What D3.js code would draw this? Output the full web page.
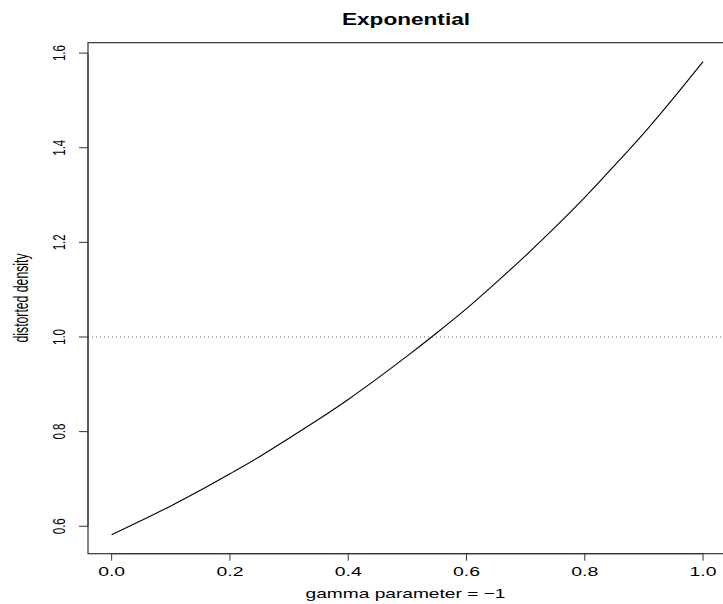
<!DOCTYPE html>
<html lang="en">
<head>
  <meta charset="UTF-8">
  <title>Exponential</title>
  <style>
    html, body {
      margin: 0;
      padding: 0;
      background: #fff;
      overflow: hidden;
    }
    svg {
      display: block;
      font-family: 'Liberation Sans', Arial, sans-serif;
    }
  </style>
</head>
<body>
  <svg id="chart" width="723" height="604"></svg>

  <script src="https://d3js.org/d3.v7.min.js"></script>
  <script>
    // values
    const uValues = [0, 0.05, 0.1, 0.15, 0.2, 0.25, 0.3, 0.35, 0.4, 0.45, 0.5,
                     0.55, 0.6, 0.65, 0.7, 0.75, 0.8, 0.85, 0.9, 0.95, 1.0];
    const densityValues = [0.582, 0.612, 0.643, 0.676, 0.711, 0.747, 0.786, 0.826, 0.868, 0.913, 0.960,
                           1.009, 1.060, 1.115, 1.172, 1.232, 1.295, 1.362, 1.431, 1.505, 1.582];
    const xTicks = [0, 0.2, 0.4, 0.6, 0.8, 1.0];
    const yTicks = [0.6, 0.8, 1.0, 1.2, 1.4, 1.6];
    const refLevel = 1.0;

    const svg = d3.select("#chart");
    const box = { left: 88, right: 726.7, top: 42.7, bottom: 553.7 };

    // R style: 4% padding on each side of the data range
    const xMin = d3.min(uValues), xMax = d3.max(uValues);
    const yMin = d3.min(densityValues), yMax = d3.max(densityValues);
    const xPad = (xMax - xMin) * 0.04, yPad = (yMax - yMin) * 0.04;

    const x = d3.scaleLinear().domain([xMin - xPad, xMax + xPad]).range([box.left, box.right]);
    const y = d3.scaleLinear().domain([yMin - yPad, yMax + yPad]).range([box.bottom, box.top]);

    // the reference picture is stretched sideways, so text widths are forced
    function stretch(sel, len) {
      sel.attr("textLength", len).attr("lengthAdjust", "spacingAndGlyphs");
    }

    // plot box
    svg.append("rect")
      .attr("x", box.left).attr("y", box.top)
      .attr("width", box.right - box.left).attr("height", box.bottom - box.top)
      .attr("fill", "none").attr("stroke", "#333").attr("stroke-width", 1.2);

    // x axis
    const gx = svg.append("g").attr("transform", `translate(0,${box.bottom})`);
    gx.append("path")
      .attr("d", `M${x(xTicks[0])},0H${x(xTicks[xTicks.length - 1])}`)
      .attr("stroke", "#333").attr("fill", "none");
    const xt = gx.selectAll("g.xtick").data(xTicks).enter().append("g")
      .attr("class", "xtick")
      .attr("transform", d => `translate(${x(d)},0)`);
    xt.append("line").attr("y1", 0).attr("y2", 7).attr("stroke", "#333");
    xt.append("text")
      .attr("y", 22)
      .attr("text-anchor", "middle")
      .attr("font-size", 13)
      .text(d => d.toFixed(1))
      .call(stretch, 27);

    // y axis (labels rotated like R's default las=0)
    const gy = svg.append("g").attr("transform", `translate(${box.left},0)`);
    gy.append("path")
      .attr("d", `M0,${y(yTicks[0])}V${y(yTicks[yTicks.length - 1])}`)
      .attr("stroke", "#333").attr("fill", "none");
    const yt = gy.selectAll("g.ytick").data(yTicks).enter().append("g")
      .attr("class", "ytick")
      .attr("transform", d => `translate(0,${y(d)})`);
    yt.append("line").attr("x1", -9).attr("x2", 0).attr("stroke", "#333");
    yt.append("text")
      .attr("transform", "translate(-23,0) rotate(-90) scale(1,1.4)")
      .attr("text-anchor", "middle")
      .attr("font-size", 12)
      .text(d => d.toFixed(1))
      .call(stretch, 16);

    // reference line at 1
    svg.append("line")
      .attr("x1", box.left).attr("x2", box.right)
      .attr("y1", y(refLevel)).attr("y2", y(refLevel))
      .attr("stroke", "#444").attr("stroke-width", 0.8)
      .attr("stroke-dasharray", "1,3");

    // curve
    const line = d3.line()
      .x((d, i) => x(uValues[i]))
      .y(d => y(d))
      .curve(d3.curveMonotoneX);
    svg.append("path")
      .datum(densityValues)
      .attr("d", line)
      .attr("fill", "none")
      .attr("stroke", "#000")
      .attr("stroke-width", 1.1);

    // title and axis labels
    svg.append("text")
      .attr("x", 406).attr("y", 25)
      .attr("text-anchor", "middle")
      .attr("font-weight", "bold").attr("font-size", 16)
      .text("Exponential")
      .call(stretch, 128);
    svg.append("text")
      .attr("x", 405.5).attr("y", 598)
      .attr("text-anchor", "middle").attr("font-size", 13)
      .text("gamma parameter = \u22121")
      .call(stretch, 200);
    svg.append("text")
      .attr("transform", "translate(27.5,298) rotate(-90) scale(1,1.4)")
      .attr("text-anchor", "middle").attr("font-size", 14)
      .text("distorted density")
      .call(stretch, 89);
  </script>
</body>
</html>
